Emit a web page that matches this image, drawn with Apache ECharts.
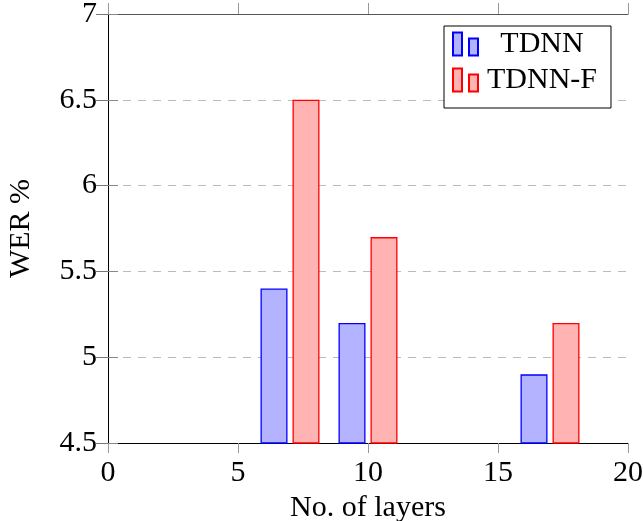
<!DOCTYPE html>
<html>
<head>
<meta charset="utf-8">
<script src="https://cdn.jsdelivr.net/npm/echarts@6/dist/echarts.min.js"></script>
<style>
html,body{margin:0;padding:0;background:#fff;}
#chart{width:643px;height:521px;}
</style>
</head>
<body>
<div id="chart"></div>
<script>
const layers = [7, 10, 17];
const tdnn = [5.4, 5.2, 4.9];
const tdnnF = [6.5, 5.7, 5.2];
const seriesNames = ['TDNN', 'TDNN-F'];
const xTicks = [0, 5, 10, 15, 20];
const yTicks = [4.5, 5, 5.5, 6, 6.5, 7];

const FONT = 'Liberation Serif';
const chart = echarts.init(document.getElementById('chart'));
const pairs = (xs, ys) => xs.map((x, i) => [x, ys[i]]);
const iconPath = 'path://M0,0h9v23h-9z M16,6h9v17h-9z';

chart.setOption({
  animation: false,
  backgroundColor: '#fff',
  grid: { left: 108, right: 15, top: 14, bottom: 78, containLabel: false, outerBoundsMode: 'none' },
  legend: {
    orient: 'vertical',
    left: 444, top: 26,
    padding: [3, 14, 13, 8],
    itemGap: 6,
    itemWidth: 25, itemHeight: 23,
    borderColor: '#000', borderWidth: 1,
    backgroundColor: '#fff',
    icon: iconPath,
    data: seriesNames,
    formatter: '{c|{name}}',
    textStyle: {
      fontFamily: FONT, fontSize: 30, color: '#000',
      rich: { c: { width: 118, align: 'center', fontFamily: FONT, fontSize: 30 } }
    }
  },
  xAxis: [{
    type: 'value', position: 'bottom',
    min: xTicks[0], max: xTicks[xTicks.length - 1], interval: 5,
    name: 'No. of layers', nameLocation: 'middle', nameGap: 44,
    nameTextStyle: { fontFamily: FONT, fontSize: 30, color: '#000' },
    axisLine: { show: true, lineStyle: { color: '#000', width: 1 } },
    axisTick: { show: true, inside: false, length: 10, lineStyle: { color: '#999' } },
    axisLabel: { margin: 15, fontFamily: FONT, fontSize: 30, color: '#000' },
    splitLine: { show: false }
  }, {
    type: 'value', position: 'top',
    min: xTicks[0], max: xTicks[xTicks.length - 1], interval: 5,
    axisLine: { show: true, lineStyle: { color: '#555', width: 1 } },
    axisTick: { show: true, inside: false, length: 11, lineStyle: { color: '#999' } },
    axisLabel: { show: false },
    splitLine: { show: false }
  }],
  yAxis: [{
    type: 'value', position: 'left',
    min: yTicks[0], max: yTicks[yTicks.length - 1], interval: 0.5,
    name: 'WER %', nameLocation: 'middle', nameGap: 72,
    nameTextStyle: { fontFamily: FONT, fontSize: 30, color: '#000' },
    axisLine: { show: true, lineStyle: { color: '#666', width: 1 } },
    axisTick: { show: true, inside: true, length: 10, lineStyle: { color: '#888' } },
    axisLabel: { margin: 11, fontFamily: FONT, fontSize: 30, color: '#000' },
    splitLine: { show: true, lineStyle: { color: '#bbb', type: [8, 7], width: 1 } }
  }, {
    type: 'value', position: 'right',
    min: yTicks[0], max: yTicks[yTicks.length - 1], interval: 0.5,
    axisLine: { show: true, lineStyle: { color: '#000', width: 1 } },
    axisTick: { show: true, inside: true, length: 12, lineStyle: { color: '#777' } },
    axisLabel: { show: false },
    splitLine: { show: false }
  }],
  series: [{
    name: seriesNames[0], type: 'bar', xAxisIndex: 0, yAxisIndex: 0,
    data: pairs(layers, tdnn),
    barWidth: 27, barGap: '18.5%', clip: true,
    itemStyle: { color: '#b3b3ff', borderColor: '#0000ff', borderWidth: 1.3 }
  }, {
    name: seriesNames[1], type: 'bar', xAxisIndex: 0, yAxisIndex: 0,
    data: pairs(layers, tdnnF),
    barWidth: 27, barGap: '18.5%', clip: true,
    itemStyle: { color: '#ffb3b3', borderColor: '#ff0000', borderWidth: 1.3 }
  }]
});
</script>
</body>
</html>
